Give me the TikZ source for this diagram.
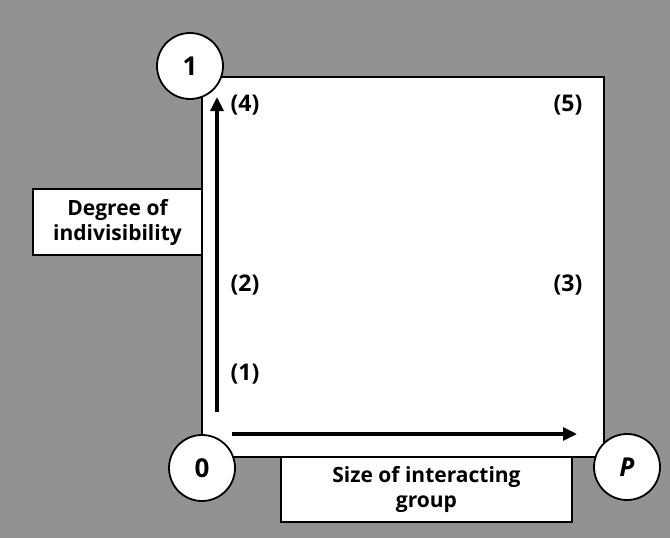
\documentclass[tikz,border=0pt]{standalone}
\usepackage{fontspec}
\setmainfont{Open Sans}
\usetikzlibrary{arrows.meta}
\definecolor{bggray}{RGB}{146,146,146}
\tikzset{
  panel/.style={draw=black, line width=1.6pt, fill=white},
  corner/.style={circle, draw=black, line width=1.8pt, fill=white, minimum size=66pt, inner sep=0pt, font=\fontsize{26}{26}\selectfont\bfseries},
  labelbox/.style={draw=black, line width=1.6pt, fill=white, inner sep=0pt, align=center, font=\fontsize{21}{25}\selectfont\bfseries},
  region/.style={font=\fontsize{23}{23}\selectfont\bfseries, inner sep=0pt},
  axis/.style={line width=3.2pt, -{Triangle[length=14pt,width=13pt]}}
}
\begin{document}
\begin{tikzpicture}[x=1pt,y=-1pt]
\fill[bggray] (0,0) rectangle (670,538);
\useasboundingbox (0,0) rectangle (670,538);
\draw[panel] (202,77) rectangle (604,457);
\node[labelbox, minimum width=169pt, minimum height=66pt] (deg) at (117.5,222) {Degree of\\indivisibility};
\node[labelbox, minimum width=291pt, minimum height=65pt] (size) at (426.5,489.5) {Size of interacting\\group};
\coordinate (vs) at (217,412);
\coordinate (ve) at (217,97);
\coordinate (hs) at (232,434);
\coordinate (he) at (577,434);
\draw[axis] (vs) -- (ve);
\draw[axis] (hs) -- (he);
\node[corner] (one) at (190,66) {1};
\node[corner] (zero) at (202,468) {0};
\node[corner] (pp) at (627,467) {\itshape P};
\node[region] (r4) at (245,105) {(4)};
\node[region] (r5) at (568,105) {(5)};
\node[region] (r2) at (245,285) {(2)};
\node[region] (r3) at (568,285) {(3)};
\node[region] (r1) at (245,374) {(1)};
\end{tikzpicture}
\end{document}
